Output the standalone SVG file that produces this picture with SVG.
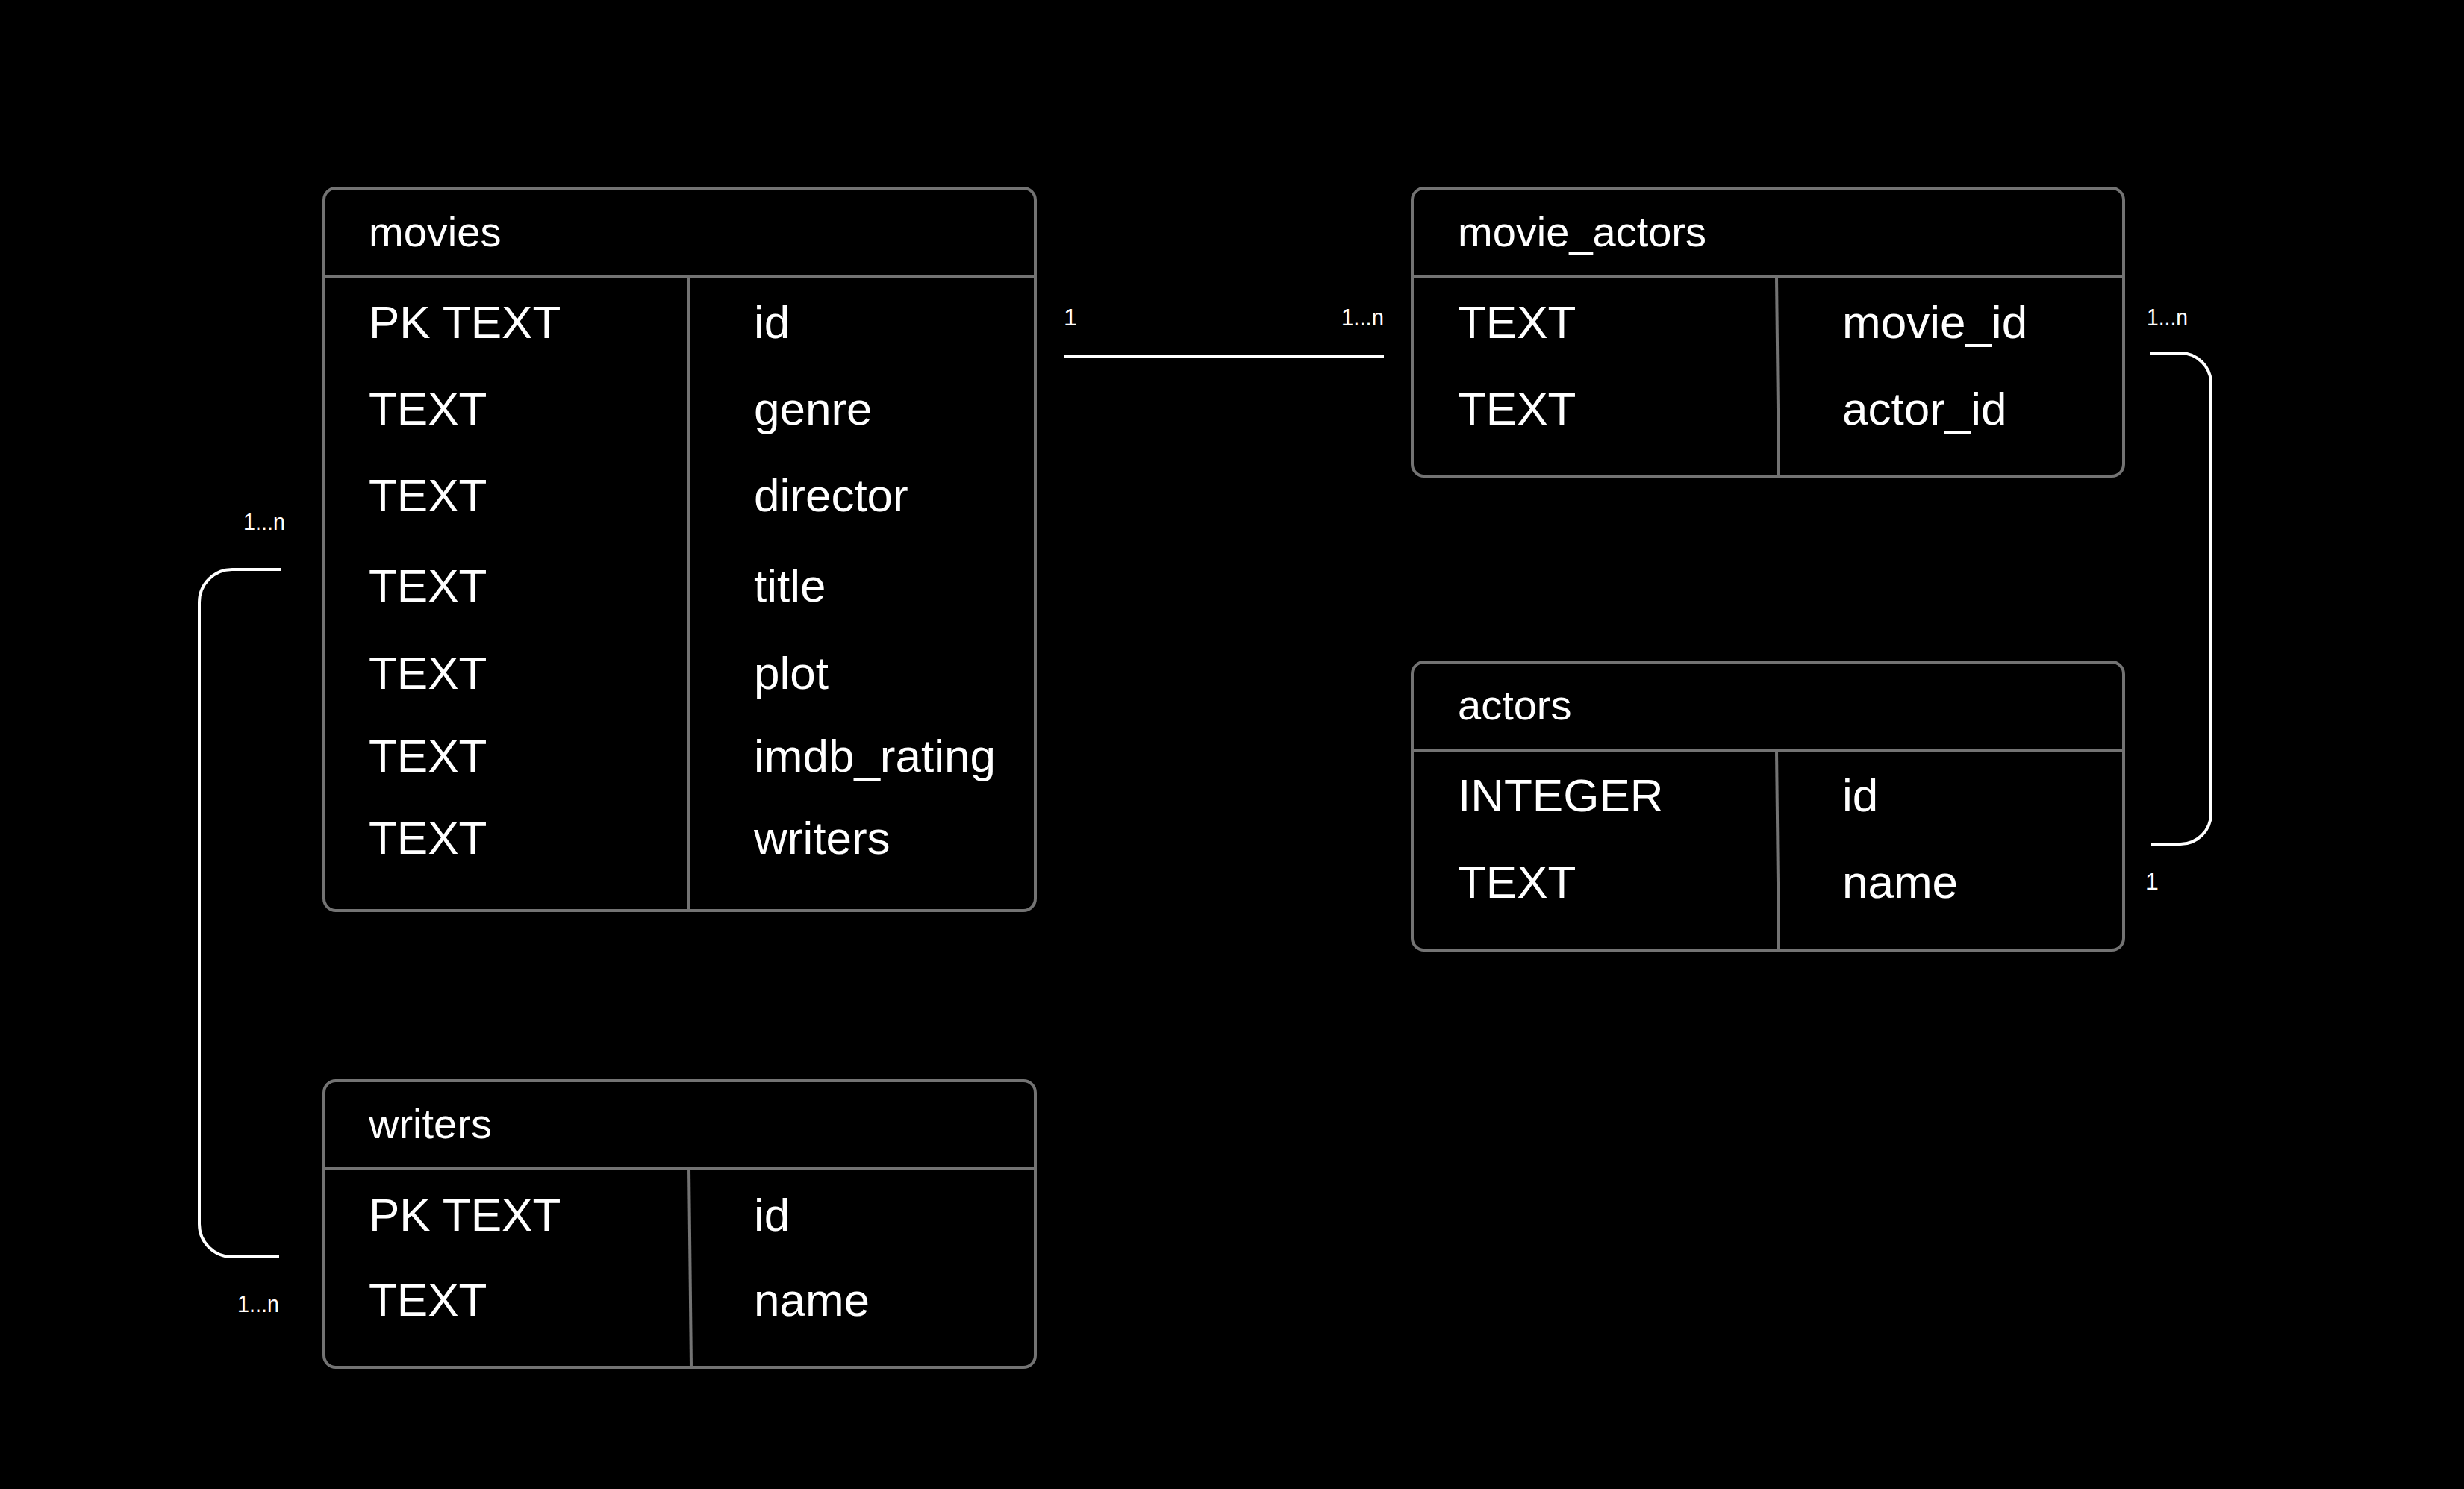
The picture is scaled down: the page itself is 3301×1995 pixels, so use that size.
<svg xmlns="http://www.w3.org/2000/svg" width="3301" height="1995" viewBox="0 0 3301 1995">
<style>
.box{fill:#000;stroke:#737373;stroke-width:4}
.sep{stroke:#737373;stroke-width:4;fill:none}
.hdr{font-family:"Liberation Sans",Arial,sans-serif;font-size:56px;fill:#fff}
.row{font-family:"Liberation Sans",Arial,sans-serif;font-size:62px;fill:#fff}
.lbl{font-family:"Liberation Sans",Arial,sans-serif;font-size:32px;fill:#fff}
.con{stroke:#fff;stroke-width:4;fill:none}
</style>
<rect width="3301" height="1995" fill="#000"/>
<g id="movies">
<rect class="box" x="434" y="252" width="953" height="968" rx="16"/>
<line class="sep" x1="434" y1="371" x2="1387" y2="371"/>
<line class="sep" x1="923" y1="371" x2="923" y2="1220"/>
<text class="hdr" x="494" y="330">movies</text>
<text class="row" x="494" y="453">PK TEXT</text><text class="row" x="1010" y="453">id</text>
<text class="row" x="494" y="569">TEXT</text><text class="row" x="1010" y="569">genre</text>
<text class="row" x="494" y="685">TEXT</text><text class="row" x="1010" y="685">director</text>
<text class="row" x="494" y="806">TEXT</text><text class="row" x="1010" y="806">title</text>
<text class="row" x="494" y="923">TEXT</text><text class="row" x="1010" y="923">plot</text>
<text class="row" x="494" y="1034">TEXT</text><text class="row" x="1010" y="1034">imdb_rating</text>
<text class="row" x="494" y="1144">TEXT</text><text class="row" x="1010" y="1144">writers</text>
</g>
<g id="movie_actors">
<rect class="box" x="1892" y="252" width="953" height="386" rx="16"/>
<line class="sep" x1="1892" y1="371" x2="2845" y2="371"/>
<line class="sep" x1="2380" y1="371" x2="2383" y2="638"/>
<text class="hdr" x="1953" y="330">movie_actors</text>
<text class="row" x="1953" y="453">TEXT</text><text class="row" x="2468" y="453">movie_id</text>
<text class="row" x="1953" y="569">TEXT</text><text class="row" x="2468" y="569">actor_id</text>
</g>
<g id="actors">
<rect class="box" x="1892" y="887" width="953" height="386" rx="16"/>
<line class="sep" x1="1892" y1="1005" x2="2845" y2="1005"/>
<line class="sep" x1="2380" y1="1005" x2="2383" y2="1273"/>
<text class="hdr" x="1953" y="964">actors</text>
<text class="row" x="1953" y="1087">INTEGER</text><text class="row" x="2468" y="1087">id</text>
<text class="row" x="1953" y="1203">TEXT</text><text class="row" x="2468" y="1203">name</text>
</g>
<g id="writers">
<rect class="box" x="434" y="1448" width="953" height="384" rx="16"/>
<line class="sep" x1="434" y1="1565" x2="1387" y2="1565"/>
<line class="sep" x1="923" y1="1565" x2="926" y2="1832"/>
<text class="hdr" x="494" y="1525">writers</text>
<text class="row" x="494" y="1649">PK TEXT</text><text class="row" x="1010" y="1649">id</text>
<text class="row" x="494" y="1763">TEXT</text><text class="row" x="1010" y="1763">name</text>
</g>
<g id="connectors">
<line class="con" x1="1425" y1="477" x2="1854" y2="477"/>
<text class="lbl" x="1425" y="436">1</text>
<text class="lbl" x="1797" y="436" textLength="57" lengthAdjust="spacingAndGlyphs">1...n</text>
<path class="con" d="M2880,473 H2921 A41,41 0 0 1 2962,514 V1090 A41,41 0 0 1 2921,1131 H2882"/>
<text class="lbl" x="2876" y="436" textLength="55" lengthAdjust="spacingAndGlyphs">1...n</text>
<text class="lbl" x="2874" y="1192">1</text>
<path class="con" d="M376,763 H311 A44,44 0 0 0 267,807 V1640 A44,44 0 0 0 311,1684 H374"/>
<text class="lbl" x="326" y="710" textLength="56" lengthAdjust="spacingAndGlyphs">1...n</text>
<text class="lbl" x="318" y="1758" textLength="56" lengthAdjust="spacingAndGlyphs">1...n</text>
</g>
</svg>
